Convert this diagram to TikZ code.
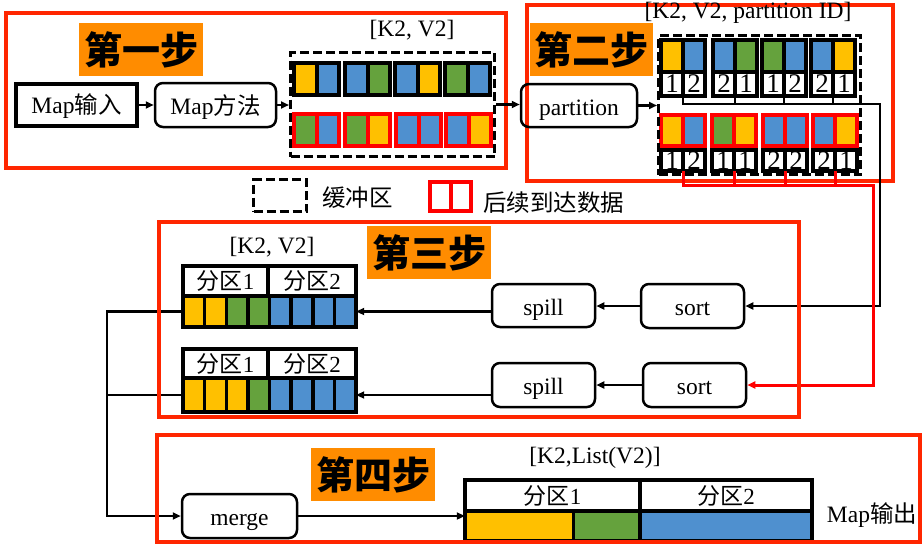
\documentclass[tikz,border=0pt]{standalone}
\usepackage{fontspec}
\setmainfont{Liberation Serif}
\newfontfamily\cjk{Noto Sans CJK SC}
\usetikzlibrary{arrows.meta}
\definecolor{framered}{HTML}{FF2600}
\definecolor{cellred}{HTML}{FF0000}
\definecolor{stepor}{HTML}{FF8C00}
\definecolor{cY}{HTML}{FFC000}
\definecolor{cB}{HTML}{4F90CF}
\definecolor{cG}{HTML}{65A23D}
\begin{document}
\begin{tikzpicture}[x=1pt,y=-1pt,
  txt/.style={inner sep=0pt, font=\fontsize{23.5}{28}\selectfont},
  num/.style={inner sep=0pt, font=\fontsize{27}{27}\selectfont},
  frame/.style={draw=framered, line width=4pt},
  steplabel/.style={fill=stepor, inner sep=0pt, minimum width=124pt, minimum height=53pt, font=\cjk\bfseries\fontsize{38}{40}\selectfont},
  rbox/.style={draw, rounded corners=8pt, line width=2.5pt, inner sep=0pt, text height=19pt, text depth=0pt, font=\fontsize{23.5}{28}\selectfont},
  sqbox/.style={draw, line width=3.5pt, inner sep=0pt, text height=17pt, text depth=0pt, font=\fontsize{23.5}{28}\selectfont},
  buf/.style={draw, dashed, dash pattern=on 9pt off 4pt, line width=3pt, inner sep=0pt},
  cellk/.style={draw=black, line width=4pt},
  cellr/.style={draw=cellred, line width=4pt},
  tcell/.style={draw=black, line width=3.5pt},
  hcell/.style={draw=black, line width=3.5pt, inner sep=0pt, font=\fontsize{23}{28}\selectfont},
  linek/.style={draw=black, line width=2.8pt},
  arrowk/.style={draw=black, line width=2.6pt, -{Triangle[length=8pt,width=7pt]}},
  arrowr/.style={draw=cellred, line width=3pt, -{Triangle[length=8pt,width=7pt]}},
  anchorbox/.style={inner sep=0pt}
]
\useasboundingbox (0,0) rectangle (924,546);
\fill[white] (0,0) rectangle (924,546);

% ---------- frames of step 1 and 2 ----------
\draw[frame] (6,13) rectangle (506,168);
\draw[frame] (527,5) rectangle (893,181);

% ---------- step 1 ----------
\node[steplabel] (s1) at (141,49.5) {第一步};
\node[sqbox, minimum width=121pt, minimum height=42pt] (mapin) at (76.5,105) {Map{\cjk 输入}};
\node[rbox, minimum width=121pt, minimum height=44pt] (mapfn) at (215.5,105) {Map{\cjk 方法}};
\node[txt] (lab1) at (412,30) {[K2, V2]};
\foreach \L/\a/\b in {294/cY/cB, 345/cB/cG, 395/cB/cY, 445/cG/cB} {
  \draw[cellk, fill=\a] (\L,62.5) rectangle (\L+22.5,94.5);
  \draw[cellk, fill=\b] (\L+22.5,62.5) rectangle (\L+45,94.5);
}
\foreach \L/\a/\b in {294/cG/cB, 345/cG/cY, 396/cB/cB, 446/cB/cY} {
  \draw[cellr, fill=\a] (\L,114) rectangle (\L+22.5,146);
  \draw[cellr, fill=\b] (\L+22.5,114) rectangle (\L+45,146);
}
\node[buf, minimum width=204pt, minimum height=104pt] (buf1) at (392.5,104.5) {};

% ---------- step 2 ----------
\node[steplabel, minimum width=123pt] (s2) at (591.5,49.5) {第二步};
\node[rbox, minimum width=116pt, minimum height=43pt] (part) at (579,105.5) {partition};
\node[txt] (lab2) at (748,13) {[K2, V2, partition ID]};
\foreach \L/\a/\b/\na/\nb [count=\i] in {661/cY/cB/1/2, 713/cB/cG/2/1, 762/cG/cB/1/2, 811/cB/cY/2/1} {
  \draw[cellk, fill=\a] (\L,40) rectangle (\L+22,71.5);
  \draw[cellk, fill=\b] (\L+22,40) rectangle (\L+44,71.5);
  \draw[cellk, fill=white] (\L,71.5) rectangle (\L+22,96);
  \draw[cellk, fill=white] (\L+22,71.5) rectangle (\L+44,96);
  \node[num] (tna\i) at (\L+11,84) {\na};
  \node[num] (tnb\i) at (\L+33,84) {\nb};
  \coordinate (tt\i) at (\L+22,96);
}
\foreach \L/\a/\b/\na/\nb [count=\i] in {661/cY/cB/1/2, 712/cG/cY/1/1, 763/cB/cB/2/2, 813/cB/cY/2/1} {
  \draw[cellk, fill=white] (\L,150) rectangle (\L+22,171);
  \draw[cellk, fill=white] (\L+22,150) rectangle (\L+44,171);
  \draw[cellr, fill=\a] (\L,115) rectangle (\L+22,146);
  \draw[cellr, fill=\b] (\L+22,115) rectangle (\L+44,146);
  \node[num] (bna\i) at (\L+11,160.5) {\na};
  \node[num] (bnb\i) at (\L+33,160.5) {\nb};
  \coordinate (tb\i) at (\L+22,171);
}
\node[buf, minimum width=202pt, minimum height=139pt] (buf2) at (759.5,105) {};

% ---------- legend ----------
\node[buf, minimum width=53pt, minimum height=32pt] (legbuf) at (280,195.5) {};
\node[txt, anchor=west] (legbuft) at (322,198) {\cjk 缓冲区};
\draw[draw=cellred, line width=3.5pt] (430,182) rectangle (451,211);
\draw[draw=cellred, line width=3.5pt] (451,182) rectangle (471,211);
\node[txt, anchor=west] (legnewt) at (483,203) {\cjk 后续到达数据};

% ---------- step 3 ----------
\node[steplabel] (s3) at (429,252.5) {第三步};
\node[txt] (lab3) at (272,247) {[K2, V2]};
\node[hcell, minimum width=85pt, minimum height=30pt] (t1a) at (225.5,281) {{\cjk 分区}1};
\node[hcell, minimum width=88pt, minimum height=30pt] (t1b) at (312,281) {{\cjk 分区}2};
\foreach \c [count=\i from 0] in {cY,cY,cG,cG,cB,cB,cB,cB} {
  \draw[tcell, fill=\c] (183+\i*21.625,296) rectangle ++(21.625,31);
}
\node[anchorbox, minimum width=173pt, minimum height=31pt] (t1row) at (269.5,311.5) {};
\node[hcell, minimum width=85pt, minimum height=29pt] (t2a) at (225.5,363.5) {{\cjk 分区}1};
\node[hcell, minimum width=88pt, minimum height=29pt] (t2b) at (312,363.5) {{\cjk 分区}2};
\foreach \c [count=\i from 0] in {cY,cY,cY,cG,cB,cB,cB,cB} {
  \draw[tcell, fill=\c] (183+\i*21.625,378) rectangle ++(21.625,34);
}
\node[anchorbox, minimum width=173pt, minimum height=34pt] (t2row) at (269.5,395) {};
\node[rbox, minimum width=103pt, minimum height=43pt] (spill1) at (543.5,305.5) {spill};
\node[rbox, minimum width=103pt, minimum height=44pt] (spill2) at (543.5,385) {spill};
\node[rbox, minimum width=103pt, minimum height=44pt] (sort1) at (692.5,306) {sort};
\node[rbox, minimum width=103pt, minimum height=44pt] (sort2) at (694.5,385) {sort};

% ---------- step 4 ----------
\node[steplabel] (s4) at (373,474.5) {第四步};
\node[rbox, minimum width=115pt, minimum height=44pt] (merge) at (239.5,516) {merge};
\node[txt] (lab4) at (595,458) {[K2,List(V2)]};
\node[hcell, minimum width=175pt, minimum height=31pt] (t4a) at (552.5,495.5) {{\cjk 分区}1};
\node[hcell, minimum width=172pt, minimum height=31pt] (t4b) at (726,495.5) {{\cjk 分区}2};
\draw[tcell, fill=cY] (465,511) rectangle (573.5,541);
\draw[tcell, fill=cG] (573.5,511) rectangle (640,541);
\draw[tcell, fill=cB] (640,511) rectangle (812,541);
\node[anchorbox, minimum width=347pt, minimum height=30pt] (t4row) at (638.5,526) {};
\node[txt] (mapout) at (872,515) {Map{\cjk 输出}};

% ---------- connectors ----------
\draw[arrowk] (mapin.east) -- (mapfn.west);
\draw[arrowk] (mapfn.east) -- (mapfn.east -| buf1.west);
\draw[arrowk] (buf1.east) -- (buf1.east -| part.west);
\draw[arrowk] (part.east) -- (part.east -| buf2.west);

\coordinate (bus1) at (880,104);
\coordinate (bus2) at (873,185);
\draw[arrowk] (tt1) |- (bus1) |- (sort1.east);
\foreach \i in {2,3,4} \draw[linek] (tt\i) -- (tt\i |- bus1);
\draw[arrowr] (tb1) |- (bus2) |- (sort2.east);
\foreach \i in {2,3,4} \draw[draw=cellred, line width=3pt] (tb\i) -- (tb\i |- bus2);

\draw[arrowk] (sort1.west) -- (sort1.west -| spill1.east);
\draw[arrowk] (sort2.west) -- (sort2.west -| spill2.east);
\draw[arrowk] (spill1.west |- t1row.east) -- (t1row.east);
\draw[arrowk] (spill2.west |- t2row.east) -- (t2row.east);

\coordinate (jL) at (107,516);
\draw[arrowk] (t1row.west) -| (jL) -- (merge.west);
\draw[linek] (t2row.west) -- (t2row.west -| jL);
\draw[arrowk] (merge.east) -- (merge.east -| t4row.west);

% ---------- frames of step 3 and 4 ----------
\draw[frame] (159,222) rectangle (799,417);
\draw[frame] (157,435) rectangle (920,542);
\end{tikzpicture}
\end{document}
